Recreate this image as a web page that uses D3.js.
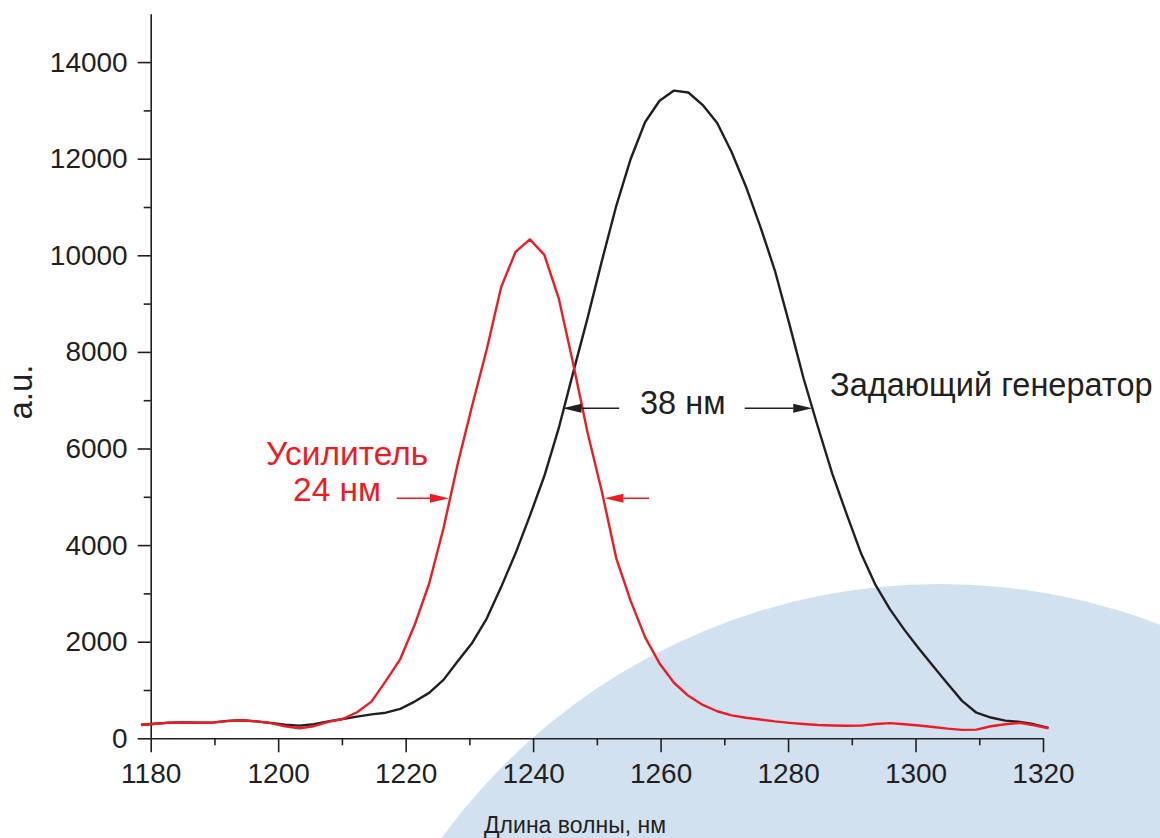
<!DOCTYPE html>
<html>
<head>
<meta charset="utf-8">
<script src="https://cdn.jsdelivr.net/npm/d3@7"></script>
<style>
  body { margin: 0; background: #fff; }
  svg { display: block; }
  text { font-family: "Liberation Sans", Arial, Helvetica, sans-serif; fill: #231f20; }
</style>
</head>
<body>
<svg width="1160" height="838"></svg>
<script>
// wavelength grid, nm
var wavelength = [
  1178.48, 1180.74, 1183.00, 1185.26, 1187.52, 1189.78, 1192.04, 1194.30, 1196.56, 1198.82,
  1201.08, 1203.34, 1205.60, 1207.86, 1210.12, 1212.38, 1214.64, 1216.90, 1219.16, 1221.42,
  1223.68, 1225.94, 1228.20, 1230.46, 1232.72, 1234.98, 1237.24, 1239.50, 1241.76, 1244.02,
  1246.28, 1248.54, 1250.80, 1253.06, 1255.32, 1257.58, 1259.84, 1262.10, 1264.36, 1266.62,
  1268.88, 1271.14, 1273.40, 1275.66, 1277.92, 1280.18, 1282.44, 1284.70, 1286.96, 1289.22,
  1291.48, 1293.74, 1296.00, 1298.26, 1300.52, 1302.78, 1305.04, 1307.30, 1309.56, 1311.82,
  1314.08, 1316.34, 1318.60, 1320.86
];

// "Задающий генератор" (black)
var generator = [
  280, 300, 325, 330, 323, 330, 360, 373, 350, 320,
  280, 262, 290, 350, 400, 450, 495, 530, 610, 760,
  940, 1210, 1600, 1980, 2480, 3130, 3830, 4610, 5430, 6420,
  7570, 8700, 9890, 11030, 12000, 12760, 13200, 13410, 13370, 13110,
  12740, 12140, 11420, 10590, 9690, 8590, 7450, 6440, 5470, 4630,
  3820, 3170, 2670, 2245, 1860, 1490, 1130, 775, 530, 430,
  365, 340, 290, 215
];

// "Усилитель" (red)
var amplifier = [
  275, 300, 325, 330, 323, 325, 355, 373, 350, 315,
  250, 207, 250, 340, 400, 540, 760, 1190, 1640, 2350,
  3200, 4350, 5700, 6900, 8050, 9340, 10070, 10330, 10010, 9110,
  7760, 6330, 5100, 3720, 2840, 2090, 1550, 1150, 880, 690,
  560, 475, 425, 390, 350, 320, 295, 275, 265, 260,
  262, 295, 315, 290, 265, 235, 200, 175, 180, 250,
  290, 320, 270, 205
];

var xTicks = [1180, 1200, 1220, 1240, 1260, 1280, 1300, 1320];
var xMinorTicks = [1190, 1210, 1230, 1250, 1270, 1290, 1310];
var yTicks = [0, 2000, 4000, 6000, 8000, 10000, 12000, 14000];
var yMinorTicks = [1000, 3000, 5000, 7000, 9000, 11000, 13000];

var ink = "#231f20";
var red = "#ed1c24";

var svg = d3.select("svg");

var x = d3.scaleLinear().domain([1180, 1320]).range([150.7, 1043]);
var y = d3.scaleLinear().domain([0, 15000]).range([738.3, 13.8]);

// pale blue disc behind the plot
svg.append("circle")
    .attr("cx", 940)
    .attr("cy", 1200)
    .attr("r", 616)
    .attr("fill", "#d2e1f0");

// X axis
var gx = svg.append("g")
    .attr("transform", "translate(0," + y(0) + ")")
    .call(d3.axisBottom(x).tickValues(xTicks).tickSize(14).tickSizeOuter(0).tickFormat(d3.format("d")));
gx.append("g")
    .call(d3.axisBottom(x).tickValues(xMinorTicks).tickSize(7).tickSizeOuter(0).tickFormat(""))
    .select(".domain").remove();
gx.selectAll("text")
    .attr("y", 45)
    .attr("dy", null)
    .attr("font-size", 28)
    .style("fill", ink);

// Y axis
var gy = svg.append("g")
    .attr("transform", "translate(" + x(1180) + ",0)")
    .call(d3.axisLeft(y).tickValues(yTicks).tickSize(13).tickSizeOuter(0).tickFormat(d3.format("d")));
gy.append("g")
    .call(d3.axisLeft(y).tickValues(yMinorTicks).tickSize(7).tickSizeOuter(0).tickFormat(""))
    .select(".domain").remove();
gy.selectAll("text")
    .attr("x", -23)
    .attr("dy", "0.32em")
    .attr("font-size", 28)
    .style("fill", ink);

svg.selectAll(".domain, .tick line")
    .attr("stroke", ink)
    .attr("stroke-width", 1.6);

// axis titles
svg.append("text")
    .attr("transform", "translate(32,392) rotate(-90)")
    .attr("text-anchor", "middle")
    .attr("font-size", 33)
    .text("a.u.");

svg.append("text")
    .attr("x", 575)
    .attr("y", 833)
    .attr("text-anchor", "middle")
    .attr("font-size", 23)
    .text("Длина волны, нм");

// curves
var line = d3.line()
    .x(function(d) { return x(d[0]); })
    .y(function(d) { return y(d[1]); });

svg.append("path")
    .datum(d3.zip(wavelength, generator))
    .attr("fill", "none")
    .attr("stroke", ink)
    .attr("stroke-width", 2.4)
    .attr("stroke-linejoin", "round")
    .attr("d", line);

svg.append("path")
    .datum(d3.zip(wavelength, amplifier))
    .attr("fill", "none")
    .attr("stroke", red)
    .attr("stroke-width", 2.4)
    .attr("stroke-linejoin", "round")
    .attr("d", line);

// width arrows: from (tail) -> to (tip), in data units
function arrow(fromX, toX, level, color) {
    var x0 = x(fromX), x1 = x(toX), yy = y(level);
    var dir = x1 > x0 ? 1 : -1;
    var head = 19, half = 4.5;
    svg.append("line")
        .attr("x1", x0).attr("x2", x1 - dir * head)
        .attr("y1", yy).attr("y2", yy)
        .attr("stroke", color)
        .attr("stroke-width", 1.5);
    svg.append("path")
        .attr("d", "M" + x1 + "," + yy +
                   "L" + (x1 - dir * head) + "," + (yy - half) +
                   "L" + (x1 - dir * head) + "," + (yy + half) + "Z")
        .attr("fill", color);
}

arrow(1253.5, 1244.6, 6834, ink);
arrow(1273.2, 1283.8, 6834, ink);
arrow(1218.6, 1226.8, 4970, red);
arrow(1258.2, 1251.2, 4970, red);

// annotations
svg.append("text")
    .attr("x", 640)
    .attr("y", 414)
    .attr("font-size", 32.5)
    .text("38 нм");

svg.append("text")
    .attr("x", 830)
    .attr("y", 396)
    .attr("font-size", 32.5)
    .text("Задающий генератор");

svg.append("text")
    .attr("x", 266)
    .attr("y", 465)
    .attr("font-size", 33.5)
    .style("fill", red)
    .text("Усилитель");

svg.append("text")
    .attr("x", 293)
    .attr("y", 501)
    .attr("font-size", 33.5)
    .style("fill", red)
    .text("24 нм");
</script>
</body>
</html>
